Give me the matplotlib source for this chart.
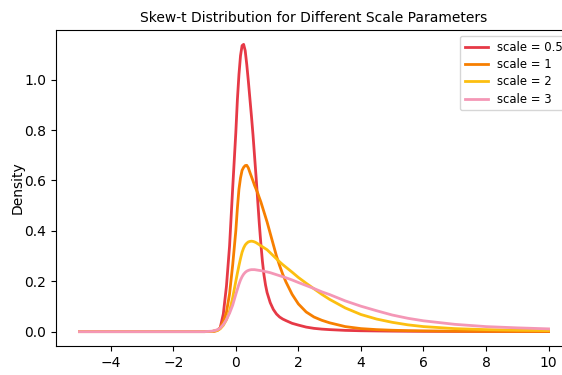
import matplotlib
matplotlib.use("Agg")
import matplotlib.pyplot as plt

# values
x = [-5, -1, -0.75, -0.6, -0.5, -0.4, -0.3, -0.2, -0.1,
     0, 0.05, 0.1, 0.15, 0.2, 0.25, 0.3, 0.35, 0.4, 0.45, 0.5,
     0.55, 0.6, 0.65, 0.7, 0.75, 0.8, 0.85, 0.9, 0.95, 1.0,
     1.1, 1.2, 1.3, 1.4, 1.5, 1.6,
     1.8, 2.0, 2.25, 2.5, 2.75, 3.0,
     3.5, 4.0, 4.5, 5.0, 5.5, 6.0,
     7.0, 8.0, 9.0, 10.0]

scale_05 = [0, 0, 0.0005, 0.004, 0.015, 0.07, 0.18, 0.34, 0.57,
            0.79, 0.92, 1.02, 1.095, 1.135, 1.14, 1.115, 1.06, 0.995, 0.925, 0.855,
            0.78, 0.695, 0.61, 0.52, 0.43, 0.35, 0.28, 0.225, 0.185, 0.155,
            0.115, 0.088, 0.07, 0.058, 0.05, 0.044,
            0.033, 0.026, 0.018, 0.013, 0.010, 0.008,
            0.005, 0.0035, 0.0027, 0.002, 0.0015, 0.0012,
            0.0008, 0.0006, 0.0004, 0.0003]

scale_1 = [0, 0, 0.001, 0.005, 0.015, 0.04, 0.077, 0.15, 0.265,
           0.40, 0.49, 0.565, 0.61, 0.64, 0.652, 0.659, 0.66, 0.65, 0.632, 0.615,
           0.598, 0.58, 0.565, 0.55, 0.532, 0.515, 0.495, 0.475, 0.455, 0.435,
           0.39, 0.345, 0.30, 0.262, 0.228, 0.198,
           0.148, 0.11, 0.078, 0.058, 0.045, 0.035,
           0.02, 0.012, 0.008, 0.0055, 0.004, 0.003,
           0.0018, 0.0012, 0.0008, 0.0006]

scale_2 = [0, 0, 0.001, 0.004, 0.011, 0.025, 0.047, 0.082, 0.135,
           0.20, 0.232, 0.262, 0.29, 0.315, 0.332, 0.344, 0.351, 0.356, 0.358, 0.359,
           0.358, 0.356, 0.353, 0.349, 0.345, 0.341, 0.337, 0.333, 0.329, 0.325,
           0.313, 0.301, 0.289, 0.277, 0.266, 0.256,
           0.236, 0.215, 0.192, 0.170, 0.148, 0.128,
           0.094, 0.068, 0.05, 0.037, 0.027, 0.02,
           0.012, 0.008, 0.0055, 0.004]

scale_3 = [0, 0, 0.002, 0.007, 0.014, 0.028, 0.048, 0.073, 0.105,
           0.148, 0.168, 0.188, 0.205, 0.218, 0.228, 0.235, 0.24, 0.243, 0.245, 0.246,
           0.246, 0.246, 0.245, 0.244, 0.243, 0.242, 0.241, 0.24, 0.238, 0.237,
           0.234, 0.23, 0.226, 0.222, 0.218, 0.214,
           0.205, 0.195, 0.183, 0.171, 0.158, 0.147,
           0.122, 0.101, 0.083, 0.066, 0.053, 0.043,
           0.029, 0.02, 0.015, 0.011]

labels = ['scale = 0.5', 'scale = 1', 'scale = 2', 'scale = 3']
colors = ['#e63946', '#f77f00', '#fcbf10', '#f497b6']

fig = plt.figure(figsize=(5.62, 3.75), dpi=100)
# the reference is cropped on the right, so the axes run past the edge
ax = fig.add_axes([56 / 562, 29 / 375, 516 / 562, 316 / 375])

for ys, lab, c in zip([scale_05, scale_1, scale_2, scale_3], labels, colors):
    ax.plot(x, ys, color=c, lw=2, label=lab)

ax.set_title('Skew-t Distribution for Different Scale Parameters', fontsize=10)
ax.set_xlabel('x')
ax.set_ylabel('Density', labelpad=0)
# legend sits further right than 'upper right' would put it
ax.legend(loc='upper left', bbox_to_anchor=(460 / 562, 1 - 36 / 375),
          bbox_transform=fig.transFigure, borderaxespad=0, fontsize='small',
          labelspacing=0.38)

fig.savefig('out.png', dpi=100)
